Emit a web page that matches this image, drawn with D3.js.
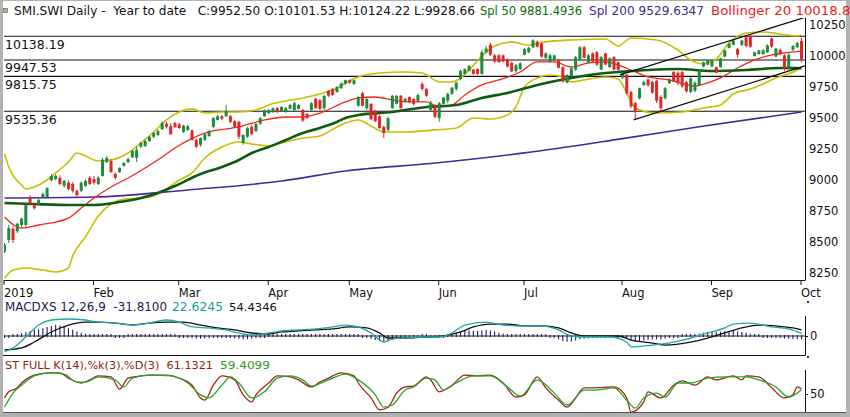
<!DOCTYPE html>
<html>
<head>
<meta charset="utf-8">
<script src="https://cdnjs.cloudflare.com/ajax/libs/d3/7.8.5/d3.min.js"></script>
<style>
  html, body { margin: 0; padding: 0; background: #fff; }
  svg { display: block; font-family: "DejaVu Sans", sans-serif; }
  text { white-space: pre; }
</style>
</head>
<body>
<svg id="chart" width="850" height="417"></svg>
<script>
// ----------------- 資料 -----------------
// 日線 K 棒 [open, high, low, close]，2019-01-03 ~ 2019-10-01
const candles = [
  // Jan
  [8405,8475,8395,8460],[8500,8620,8475,8595],[8590,8610,8475,8500],[8570,8640,8555,8630],
  [8620,8680,8605,8670],[8620,8795,8605,8780],[8835,8860,8780,8795],[8780,8795,8745,8755],
  [8790,8830,8775,8820],[8845,8880,8835,8870],[8845,8925,8835,8915],[8980,9030,8970,9015],
  [8990,9025,8980,9015],[9000,9020,8940,8950],[8935,8985,8920,8975],[8960,8980,8900,8910],
  [8950,8965,8880,8895],[8895,8905,8850,8860],[8895,8970,8885,8960],[8935,8985,8925,8975],
  [9000,9015,8940,8950],
  // Feb
  [8990,9015,8945,8960],[8950,9015,8940,9000],[9015,9160,9010,9145],[9125,9175,9120,9160],
  [9135,9150,9040,9045],[9030,9045,8985,9000],[9045,9085,9040,9080],[9095,9125,9090,9120],
  [9125,9165,9120,9150],[9165,9225,9160,9215],[9160,9250,9125,9225],[9250,9290,9240,9280],
  [9255,9310,9250,9295],[9295,9335,9290,9330],[9330,9370,9320,9360],[9345,9390,9335,9375],
  [9390,9455,9385,9440],[9435,9450,9395,9410],[9415,9440,9345,9350],[9440,9450,9400,9410],
  // Mar
  [9430,9445,9395,9400],[9370,9425,9360,9420],[9385,9425,9375,9415],[9380,9390,9300,9305],
  [9305,9315,9240,9250],[9265,9325,9250,9320],[9305,9355,9295,9350],[9335,9385,9330,9375],
  [9410,9490,9400,9480],[9465,9505,9460,9495],[9495,9505,9465,9475],[9495,9585,9490,9535],
  [9495,9505,9440,9450],[9455,9465,9405,9410],[9450,9460,9310,9330],[9280,9350,9265,9345],
  [9330,9410,9320,9400],[9410,9425,9345,9350],[9375,9440,9370,9435],[9435,9490,9425,9480],
  [9495,9550,9490,9545],
  // Apr
  [9520,9555,9510,9545],[9530,9565,9520,9560],[9560,9570,9520,9530],[9535,9575,9530,9570],
  [9530,9570,9520,9560],[9555,9595,9550,9585],[9545,9610,9535,9600],[9555,9595,9550,9585],
  [9545,9555,9450,9460],[9515,9520,9475,9480],[9545,9610,9540,9600],[9635,9640,9555,9560],
  [9625,9635,9545,9555],[9560,9665,9545,9660],[9700,9705,9650,9660],[9715,9720,9660,9665],
  [9690,9735,9685,9730],[9720,9765,9715,9760],[9755,9790,9750,9785],[9785,9790,9755,9765],
  // May
  [9755,9790,9745,9785],[9580,9660,9570,9650],[9680,9690,9575,9580],[9560,9640,9545,9635],
  [9595,9600,9465,9470],[9540,9545,9450,9455],[9495,9505,9395,9400],[9410,9420,9320,9360],
  [9385,9490,9375,9480],[9560,9665,9555,9660],[9595,9665,9590,9660],[9660,9665,9555,9560],
  [9610,9645,9605,9635],[9650,9655,9600,9610],[9635,9640,9580,9595],[9615,9680,9610,9665],
  [9755,9770,9700,9715],[9715,9720,9650,9660],[9545,9620,9540,9605],[9580,9590,9480,9490],
  // Jun
  [9480,9610,9450,9600],[9595,9650,9590,9645],[9620,9685,9600,9675],[9675,9730,9665,9725],
  [9715,9770,9700,9765],[9795,9870,9785,9860],[9835,9880,9830,9875],[9860,9905,9855,9900],
  [9870,9875,9830,9835],[9875,9880,9830,9835],[9835,10030,9830,10010],[10010,10060,10000,10040],
  [10070,10085,9980,9990],[9985,9995,9925,9935],[9985,9995,9925,9930],[9985,9990,9930,9935],
  [9950,9960,9890,9895],[9925,9935,9850,9855],[9860,9915,9845,9905],[9875,9930,9865,9920],
  // Jul
  [9990,10045,9985,10035],[10010,10055,10005,10045],[10050,10115,10045,10105],[10095,10105,10050,10055],
  [10080,10090,9965,9975],[9965,10010,9955,10000],[9935,9995,9930,9985],[9950,9990,9945,9985],
  [9945,9955,9880,9885],[9890,9895,9765,9775],[9765,9835,9760,9825],[9815,9890,9810,9880],
  [9870,9980,9860,9970],[9950,10060,9945,10050],[10050,10060,9960,9965],[9925,9995,9920,9985],
  [10000,10010,9930,9935],[10010,10020,9900,9910],[9870,9980,9865,9970],[10000,10005,9905,9910],
  [9890,9970,9885,9960],[9970,9980,9865,9870],[9930,9935,9860,9870],
  // Aug
  [9805,9850,9795,9840],[9830,9835,9665,9680],[9690,9700,9560,9575],[9600,9610,9465,9530],
  [9640,9725,9630,9720],[9745,9780,9740,9770],[9790,9800,9730,9745],[9770,9780,9675,9685],
  [9780,9790,9600,9620],[9650,9665,9530,9560],[9640,9730,9630,9720],[9760,9800,9755,9790],
  [9850,9860,9770,9775],[9845,9855,9745,9760],[9850,9860,9725,9735],[9770,9780,9685,9695],
  [9690,9810,9680,9800],[9700,9775,9690,9765],[9745,9870,9740,9860],[9895,9935,9890,9930],
  [9910,9950,9905,9945],
  // Sep
  [9895,9950,9890,9945],[9890,9895,9840,9845],[9890,9965,9885,9960],[9975,10030,9970,10025],
  [10045,10085,10040,10080],[10070,10110,10065,10105],[10035,10045,9965,9990],[10070,10110,10060,10105],
  [10130,10140,10050,10060],[10140,10150,10045,10055],[9980,10015,9975,10010],[9995,10030,9990,10025],
  [9995,10035,9990,10025],[10010,10075,10005,10065],[10120,10130,10045,10055],[9975,10045,9970,10040],
  [10030,10040,9990,9995],[9985,9995,9860,9880],[9885,10000,9875,9990],[10030,10070,10020,10060],
  [10050,10095,10045,10085],
  // Oct
  [10101.53,10124.22,9928.66,9952.50]
];

// 指標線 [第幾根K棒, 數值]
const bbUpper = [[0,9191],[1,9087],[4,8942],[5,8910],[7,8926],[10,8982],[12,9039],[15,9127],[17,9199],
  [19,9175],[22,9135],[25,9143],[29,9199],[32,9280],[35,9368],[38,9465],[41,9529],[44,9554],[47,9521],
  [51,9529],[55,9529],[59,9545],[62,9586],[66,9618],[70,9642],[74,9674],[78,9722],[80,9763],[83,9811],
  [88,9843],[94,9851],[98,9843],[102,9771],[105,9771],[109,9867],[112,9980],[115,10060],[119,10093],
  [123,10068],[127,10093],[133,10109],[141,10117],[144,10060],[147,10125],[153,10109],[158,10028],
  [161,9948],[164,9916],[167,9956],[170,10084],[174,10165],[178,10173],[182,10157],[186,10141],[187,10149]];
const bbMiddle = [[0,8685],[4,8596],[8,8620],[15,8676],[18,8757],[21,8837],[25,8926],[29,8998],[33,9079],
  [37,9167],[40,9240],[47,9360],[55,9409],[61,9465],[66,9489],[70,9489],[74,9521],[80,9610],[83,9642],
  [87,9650],[91,9626],[95,9610],[99,9610],[102,9570],[105,9586],[108,9666],[112,9747],[116,9787],
  [121,9851],[125,9932],[129,9932],[133,9891],[137,9924],[141,9932],[144,9907],[147,9867],[151,9811],
  [156,9787],[162,9738],[165,9763],[168,9803],[172,9883],[176,9948],[180,9988],[183,10004],[187,10018.86]];
const bbLower = [[0,8190],[2,8258],[5,8274],[9,8258],[12,8242],[15,8274],[16,8371],[19,8524],[22,8693],
  [25,8789],[28,8829],[32,8837],[35,8854],[38,8910],[41,8982],[44,9039],[47,9159],[51,9248],[55,9288],
  [58,9272],[62,9256],[66,9288],[70,9320],[74,9336],[78,9409],[80,9441],[83,9465],[86,9417],[89,9368],
  [94,9368],[101,9385],[106,9401],[110,9481],[114,9473],[118,9505],[120,9570],[122,9730],[125,9803],
  [128,9827],[131,9811],[133,9771],[136,9787],[141,9811],[144,9795],[146,9682],[148,9562],[153,9521],
  [159,9529],[164,9562],[168,9586],[171,9674],[175,9714],[178,9755],[181,9803],[183,9827],[186,9867],[187,9891]];
const spl50 = [[0,8797],[7,8789],[15,8781],[21,8781],[27,8805],[32,8837],[36,8878],[40,8934],[46,9031],
  [51,9087],[55,9143],[58,9199],[62,9248],[66,9304],[70,9360],[74,9401],[78,9449],[80,9481],[83,9505],
  [91,9529],[99,9570],[106,9586],[112,9642],[118,9682],[126,9755],[133,9803],[141,9843],[144,9851],
  [151,9867],[158,9875],[166,9859],[174,9867],[182,9883],[187,9881.49]];
const spl200 = [[0,8837],[21,8845],[43,8902],[65,8974],[80,9055],[100,9115],[122,9200],[145,9315],
  [163,9410],[187,9529.63]];

// 水平支撐壓力線、趨勢通道
const levels = [10138.19, 9947.53, 9815.75, 9535.36];
const channel = [
  [[144.4, 9827], [187.8, 10290]],
  [[147.6, 9465], [187.8, 9900]]
];

// MACD
const macdLine = [[0,-140],[2,-107],[5,-9],[8,98],[11,143],[15,152],[19,143],[22,125],[26,116],[30,98],
  [34,116],[38,143],[41,125],[44,81],[48,72],[52,54],[55,27],[58,9],[62,27],[65,45],[69,54],[73,63],
  [77,81],[80,98],[83,81],[86,27],[89,-54],[91,-27],[94,-18],[99,-9],[102,-9],[105,27],[108,98],
  [113,125],[117,98],[122,90],[126,90],[130,54],[133,0],[136,-9],[142,-9],[146,-54],[147,-98],[152,-81],
  [157,-54],[161,-18],[165,27],[169,72],[171,107],[175,116],[180,81],[184,63],[187,22.62]];
const macdSignal = [[0,-125],[4,-107],[7,-54],[11,36],[15,98],[19,125],[22,125],[26,116],[30,98],[34,116],
  [38,125],[42,125],[46,98],[50,72],[54,54],[58,27],[62,18],[65,36],[69,45],[73,54],[77,63],[81,81],
  [85,72],[88,27],[90,-18],[94,-18],[99,-9],[103,0],[107,36],[110,81],[114,107],[118,107],[122,90],
  [126,90],[130,72],[133,27],[136,0],[144,0],[147,-36],[152,-63],[155,-81],[161,-54],[165,-18],[169,27],
  [173,72],[177,98],[181,90],[185,72],[187,54.43]];
const macdHist = [
  -10,-5,5,15,25,35,45,55,60,70,80,90,100,95,85,70,55,40,30,20,10,
  5,3,5,8,3,-2,-3,-2,0,3,5,8,10,10,10,8,10,8,3,0,
  -3,-5,-8,-15,-22,-25,-22,-20,-15,-12,-12,-10,-15,-20,-25,-30,-28,-25,-18,-10,-3,
  3,6,6,8,8,9,10,9,4,2,4,3,2,5,6,8,10,12,14,12,
  10,0,-10,-15,-25,-35,-45,-55,-50,-35,-25,-22,-15,-12,-10,-5,2,0,-6,-10,
  -8,-3,5,15,25,35,45,50,48,45,52,55,50,40,30,22,15,8,3,2,
  5,10,12,10,5,0,-5,-15,-30,-45,-52,-50,-40,-30,-25,-20,-15,-12,-8,-5,-3,-5,-8,
  -6,-15,-35,-50,-48,-40,-35,-32,-30,-32,-22,-12,-8,-5,0,2,8,15,22,30,38,
  40,38,40,42,45,45,40,35,28,20,10,3,-3,-8,-12,-15,-18,-22,-25,-27,-29,
  -31.81
];

// 隨機指標 Full Stochastic
const stochK = [[0,41],[1,55],[3,64],[4,75],[6,89],[8,95],[11,98],[13,98],[15,86],[18,75],[20,82],[22,91],
  [25,89],[27,61],[29,86],[32,91],[34,93],[38,93],[41,86],[44,70],[46,41],[47,36],[49,70],[51,91],[54,82],
  [56,48],[58,32],[59,48],[62,75],[64,91],[67,89],[69,82],[72,66],[74,77],[76,86],[79,98],[82,91],[83,75],
  [86,41],[88,14],[90,20],[92,52],[94,66],[96,68],[99,89],[100,82],[102,55],[105,70],[108,93],[111,91],
  [114,93],[117,75],[120,43],[122,48],[125,89],[127,64],[130,36],[132,20],[134,41],[136,64],[138,64],
  [143,66],[146,41],[147,9],[150,32],[151,55],[154,41],[157,70],[159,80],[162,70],[165,89],[167,82],
  [171,91],[173,82],[174,91],[177,89],[180,64],[183,41],[185,48],[186,66],[187,61.13]];
const stochD = [[0,20],[2,52],[4,70],[7,91],[11,98],[14,95],[17,77],[19,77],[22,89],[26,82],[28,66],[30,86],
  [34,93],[39,91],[43,75],[46,48],[48,41],[51,70],[53,89],[55,75],[58,41],[61,55],[64,86],[67,91],[70,82],
  [72,68],[76,82],[80,95],[83,82],[87,48],[89,20],[91,25],[94,59],[96,66],[99,86],[101,82],[103,59],
  [106,75],[110,91],[114,91],[118,66],[121,45],[125,82],[129,52],[132,25],[136,59],[139,59],[143,64],
  [146,36],[148,18],[150,41],[153,52],[155,43],[158,75],[161,75],[165,86],[169,89],[174,89],[177,82],
  [181,66],[184,43],[187,59.41]];

// 刻度
const priceTicks = [8250, 8500, 8750, 9000, 9250, 9500, 9750, 10000, 10250];
const monthLabels = ["2019", "Feb", "Mar", "Apr", "May", "Jun", "Jul", "Aug", "Sep", "Oct"];
const monthIdx = [0, 21, 41, 62, 81, 102, 122, 145, 166, 187];

// ----------------- 畫圖 -----------------
const W = 850, H = 417;
const FONT = "DejaVu Sans, sans-serif";
const svg = d3.select("#chart");

// 外框
svg.append("rect").attr("width", W).attr("height", H).attr("fill", "#b2b2b2");
svg.append("rect").attr("x", 3).attr("y", 1).attr("width", 843).attr("height", 411).attr("fill", "#fff");
svg.append("line").attr("x1", 3).attr("x2", 846).attr("y1", 412.5).attr("y2", 412.5).attr("stroke", "#555");

// scales
const x = d3.scaleLinear().domain([0, candles.length - 1]).range([4.5, 801.5]);
const yP = d3.scaleLinear().domain([8250, 10250]).range([271, 22.4]);
const yM = d3.scaleLinear().domain([-170, 170]).range([355, 317]);
const yS = d3.scaleLinear().domain([0, 100]).range([416, 372]);

const defs = svg.append("defs");
function clip(id, y0, y1) {
    defs.append("clipPath").attr("id", id).append("rect")
        .attr("x", 4).attr("y", y0).attr("width", 801).attr("height", y1 - y0);
    return `url(#${id})`;
}

// 一段一段的彩色文字（寬度對齊原圖）
function label(p, y) {
    svg.append("text").attr("x", p.x).attr("y", y).attr("font-family", FONT).attr("font-size", p.fs)
        .attr("fill", p.c).attr("textLength", p.len).attr("lengthAdjust", "spacingAndGlyphs").text(p.t);
}

// 標題
svg.append("rect").attr("x", 3.5).attr("y", 8.5).attr("width", 4).attr("height", 4)
    .attr("fill", "#b4b47a").attr("stroke", "#666").attr("stroke-width", 0.7);
[
    { t: "SMI.SWI Daily -  Year to date   C:9952.50 O:10101.53 H:10124.22 L:9928.66", x: 14, len: 461, fs: 12, c: "#111" },
    { t: "Spl 50 9881.4936", x: 480, len: 102, fs: 11.5, c: "#0a6e0a" },
    { t: "Spl 200 9529.6347", x: 589, len: 115, fs: 12, c: "#3b2a8f" },
    { t: "Bollinger 20 10018.86", x: 711, len: 148, fs: 12, c: "#e8231b" }
].forEach(p => label(p, 14.5));

// ----- 主圖 -----
const main = svg.append("g").attr("clip-path", clip("clipMain", 18, 280));

levels.forEach(v => {
    main.append("line").attr("x1", 4).attr("x2", 805).attr("y1", yP(v)).attr("y2", yP(v))
        .attr("stroke", "#111").attr("stroke-width", 1.1);
    svg.append("text").attr("x", 5).attr("y", yP(v) + 12.5).attr("font-family", FONT)
        .attr("font-size", 12.5).attr("fill", "#111").text(v.toFixed(2));
});

const pLine = d3.line().x(d => x(d[0])).y(d => yP(d[1])).curve(d3.curveMonotoneX);
main.append("path").datum(spl200).attr("d", pLine).attr("fill", "none")
    .attr("stroke", "#47289a").attr("stroke-width", 1.6);
[bbUpper, bbLower].forEach(s => {
    main.append("path").datum(s).attr("d", pLine).attr("fill", "none")
        .attr("stroke", "#c6c000").attr("stroke-width", 1.6);
});
main.append("path").datum(bbMiddle).attr("d", pLine).attr("fill", "none")
    .attr("stroke", "#f0251a").attr("stroke-width", 1.3);
main.append("path").datum(spl50).attr("d", pLine).attr("fill", "none")
    .attr("stroke", "#0d5c12").attr("stroke-width", 2.6);

// K 棒
const kg = main.append("g");
candles.forEach((d, i) => {
    const [o, h, l, c] = d;
    const col = c >= o ? "#1f8a3c" : "#e02626";
    kg.append("line").attr("x1", x(i)).attr("x2", x(i)).attr("y1", yP(h)).attr("y2", yP(l))
        .attr("stroke", col).attr("stroke-width", 1);
    const top = yP(Math.max(o, c)), bot = yP(Math.min(o, c));
    kg.append("rect").attr("x", x(i) - 1.5).attr("y", top).attr("width", 3)
        .attr("height", Math.max(1, bot - top)).attr("fill", col);
});

// 趨勢通道
channel.forEach(seg => {
    main.append("line").attr("x1", x(seg[0][0])).attr("y1", yP(seg[0][1]))
        .attr("x2", x(seg[1][0])).attr("y2", yP(seg[1][1]))
        .attr("stroke", "#111").attr("stroke-width", 1.3);
});

// 右側價格軸
svg.append("line").attr("x1", 805.5).attr("x2", 805.5).attr("y1", 18).attr("y2", 280).attr("stroke", "#111");
svg.append("g").attr("transform", "translate(805,0)")
    .call(d3.axisRight(yP).tickValues(priceTicks).tickSize(0).tickPadding(4).tickFormat(d3.format("d")))
    .call(g => g.select(".domain").remove())
    .call(g => g.selectAll("text").attr("dy", "0.5em").attr("font-family", FONT)
        .attr("font-size", 11.5).attr("fill", "#111"));

// 月份軸
svg.append("line").attr("x1", 4).attr("x2", 805.5).attr("y1", 280.5).attr("y2", 280.5).attr("stroke", "#111");
svg.append("g").attr("transform", "translate(-1,280)")
    .call(d3.axisBottom(x).tickValues(monthIdx).tickFormat((d, i) => monthLabels[i]).tickSize(5).tickSizeOuter(0))
    .call(g => g.select(".domain").remove())
    .call(g => g.selectAll(".tick line").attr("stroke", "#111"))
    .call(g => g.selectAll("text").attr("text-anchor", "start").attr("x", 0).attr("y", 9)
        .attr("font-family", FONT).attr("font-size", 11.5).attr("fill", "#111"));

// ----- MACD -----
[
    { t: "MACDXS 12,26,9  -31.8100", x: 5, len: 162, fs: 12, c: "#1b1b55" },
    { t: "22.6245", x: 172, len: 51, fs: 11.5, c: "#169c9c" },
    { t: "54.4346", x: 229, len: 48, fs: 11, c: "#111" }
].forEach(p => label(p, 311));

const mg = svg.append("g").attr("clip-path", clip("clipMacd", 313, 355));
mg.append("line").attr("x1", 4).attr("x2", 805).attr("y1", yM(0)).attr("y2", yM(0))
    .attr("stroke", "#222").attr("stroke-width", 1);
macdHist.forEach((v, i) => {
    const y0 = yM(0), y1 = yM(v);
    const h = Math.max(2, Math.abs(y1 - y0));
    mg.append("line").attr("x1", x(i)).attr("x2", x(i))
        .attr("y1", v >= 0 ? y0 + 1 : y0 - 1).attr("y2", v >= 0 ? y0 - h : y0 + h)
        .attr("stroke", "#1c1c6a").attr("stroke-width", 1.1);
});
const mLine = d3.line().x(d => x(d[0])).y(d => yM(d[1])).curve(d3.curveMonotoneX);
mg.append("path").datum(macdSignal).attr("d", mLine).attr("fill", "none")
    .attr("stroke", "#111").attr("stroke-width", 1.3);
mg.append("path").datum(macdLine).attr("d", mLine).attr("fill", "none")
    .attr("stroke", "#1ea7a7").attr("stroke-width", 1.3);

svg.append("line").attr("x1", 805.5).attr("x2", 805.5).attr("y1", 316).attr("y2", 355).attr("stroke", "#111");
svg.append("g").attr("transform", "translate(805,0)")
    .call(d3.axisRight(yM).tickValues([0]).tickSize(3).tickPadding(2))
    .call(g => g.select(".domain").remove())
    .call(g => g.selectAll(".tick line").attr("stroke", "#111"))
    .call(g => g.selectAll("text").attr("font-family", FONT).attr("font-size", 11.5).attr("fill", "#111"));
svg.append("rect").attr("x", 807).attr("y", 301).attr("width", 2).attr("height", 2).attr("fill", "#333");
svg.append("rect").attr("x", 807).attr("y", 356).attr("width", 2).attr("height", 2).attr("fill", "#333");
svg.append("line").attr("x1", 3).attr("x2", 805.5).attr("y1", 355.5).attr("y2", 355.5).attr("stroke", "#111");

// ----- Stochastic -----
[
    { t: "ST FULL K(14),%k(3),%D(3)  61.1321", x: 5, len: 208, fs: 11.2, c: "#8e1f16" },
    { t: "59.4099", x: 220, len: 50, fs: 11, c: "#2c9a22" }
].forEach(p => label(p, 368.5));

const sg = svg.append("g").attr("clip-path", clip("clipSt", 370, 412));
const sLine = d3.line().x(d => x(d[0])).y(d => yS(d[1])).curve(d3.curveMonotoneX);
sg.append("path").datum(stochK).attr("d", sLine).attr("fill", "none")
    .attr("stroke", "#a3261c").attr("stroke-width", 1.3);
sg.append("path").datum(stochD).attr("d", sLine).attr("fill", "none")
    .attr("stroke", "#26a626").attr("stroke-width", 1.3);

svg.append("line").attr("x1", 805.5).attr("x2", 805.5).attr("y1", 370).attr("y2", 412).attr("stroke", "#111");
svg.append("g").attr("transform", "translate(805,0)")
    .call(d3.axisRight(yS).tickValues([50]).tickSize(3).tickPadding(2))
    .call(g => g.select(".domain").remove())
    .call(g => g.selectAll(".tick line").attr("stroke", "#111"))
    .call(g => g.selectAll("text").attr("font-family", FONT).attr("font-size", 11.5).attr("fill", "#111"));
</script>
</body>
</html>
